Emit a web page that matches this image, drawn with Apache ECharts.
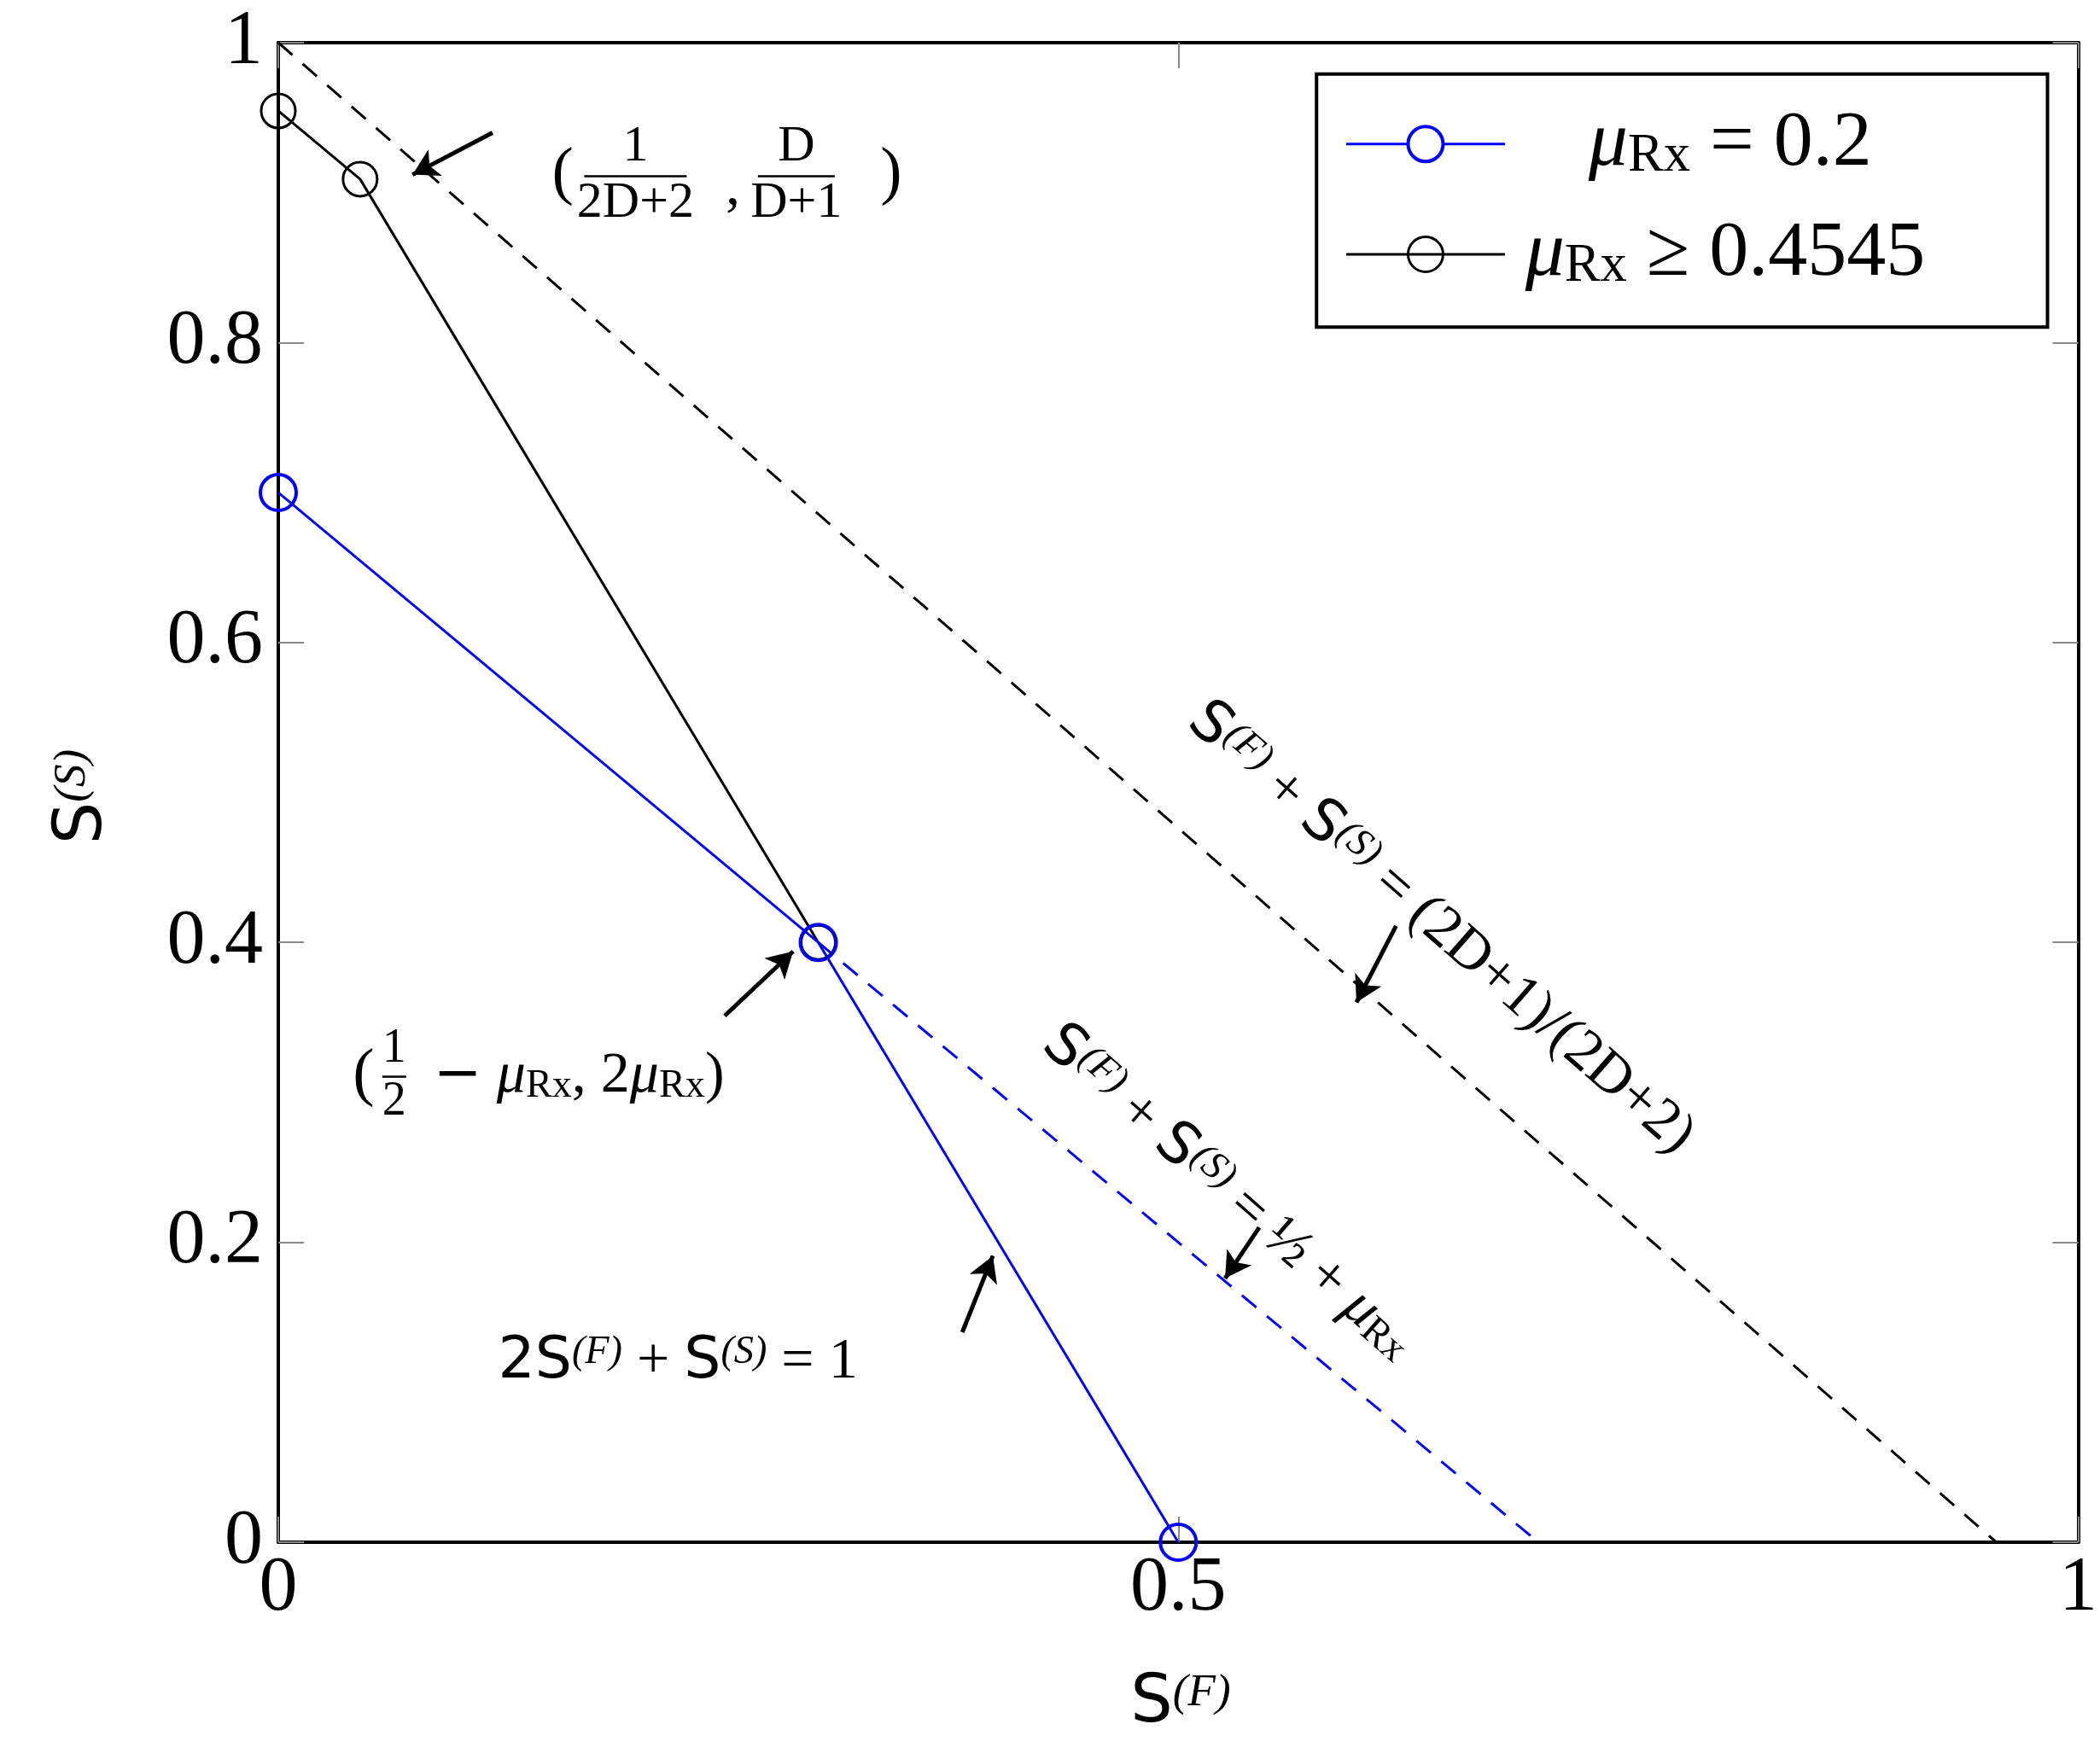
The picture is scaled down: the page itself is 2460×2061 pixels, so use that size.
<!DOCTYPE html>
<html><head><meta charset="utf-8">
<script src="https://cdn.jsdelivr.net/npm/echarts@6/dist/echarts.min.js"></script>
<style>html,body{margin:0;background:#fff}#c{width:2460px;height:2061px}</style>
</head><body><div id="c"></div>
<script>
// data
const bluePts = [[0, 0.7], [0.3, 0.4], [0.5, 0]];
const blueDash = [[0.3, 0.4], [0.7, 0]];
const blackPts = [[0, 0.9545], [0.04545, 0.909], [0.3, 0.4]];
const blackDash = [[0, 1], [0.9545, 0]];
const arrows = [
  [[0.119, 0.940], [0.0746, 0.912]],
  [[0.248, 0.351], [0.286, 0.394]],
  [[0.380, 0.140], [0.397, 0.191]],
  [[0.545, 0.210], [0.526, 0.176]],
  [[0.621, 0.411], [0.599, 0.360]]
];
const xTicks = [0, 0.5, 1];
const yTicks = [0, 0.2, 0.4, 0.6, 0.8, 1];

const S = 2460 / 1560; // reference display -> page px
const FONT = 'Liberation Serif';
const rich = (fs) => ({
  n: {fontSize: fs, fontFamily: FONT, color: '#000'},
  i: {fontSize: fs, fontFamily: FONT, fontStyle: 'italic', color: '#000'},
  sup: {fontSize: fs * 0.68, fontFamily: FONT, fontStyle: 'italic', verticalAlign: 'top', color: '#000'},
  sub: {fontSize: fs * 0.68, fontFamily: FONT, verticalAlign: 'bottom', color: '#000'},
  s: {fontSize: fs, fontFamily: 'DejaVu Sans', color: '#000'}
});

function txt(x, y, str, fs, rot, align) {
  return {
    type: 'text', x: x * S, y: y * S, rotation: rot || 0,
    style: {text: str, rich: rich(fs), align: align || 'left', verticalAlign: 'middle', font: fs + 'px ' + FONT}
  };
}
// small stacked fraction
function frac(x, y, num, den, fs) {
  const w = Math.max(num.length, den.length) * fs * 0.5;
  return [
    {type: 'text', x: x * S + w / 2, y: y * S - 4, style: {text: num, font: fs + 'px ' + FONT, align: 'center', verticalAlign: 'bottom'}},
    {type: 'line', shape: {x1: x * S, y1: y * S, x2: x * S + w, y2: y * S}, style: {stroke: '#000', lineWidth: 2.5}},
    {type: 'text', x: x * S + w / 2, y: y * S + 2, style: {text: den, font: fs + 'px ' + FONT, align: 'center', verticalAlign: 'top'}}
  ];
}

const fsA = 68;
const graphic = [
  // point label 1
  txt(410, 130, '(', 76), ...frac(434, 131, '1', '2D+2', 60),
  txt(539, 140, ',', 68), ...frac(563, 131, 'D', 'D+1', 60), txt(654, 130, ')', 76),
  // point label 2
  txt(262, 800, '(', 76), ...frac(284, 800, '1', '2', 56),
  txt(322, 800, '{s|−} {i|μ}{sub|Rx}{n|, 2}{i|μ}{sub|Rx}{n|)}', fsA),
  // constraint
  txt(370, 1012, '{s|2S}{sup|(F)}{n| + }{s|S}{sup|(S)}{n| = 1}', fsA),
  // rotated labels
  txt(780, 770, '{s|S}{sup|(F)}{n| + }{s|S}{sup|(S)}{n| = ½ + }{i|μ}{sub|Rx}', fsA, -0.72),
  txt(888, 530, '{s|S}{sup|(F)}{n| + }{s|S}{sup|(S)}{n| = (2D+1)/(2D+2)}', fsA, -0.72),
  // axis names
  txt(877, 1266, '{s|S}{sup|(F)}', 78, 0, 'center'),
  txt(62, 592, '{s|S}{sup|(S)}', 78, Math.PI / 2, 'center'),
  // legend
  {type: 'rect', shape: {x: 978 * S, y: 55 * S, width: 543 * S, height: 188 * S}, style: {fill: '#fff', stroke: '#000', lineWidth: 4}},
  {type: 'line', shape: {x1: 1000 * S, y1: 107 * S, x2: 1118 * S, y2: 107 * S}, style: {stroke: '#0000ff', lineWidth: 3}},
  {type: 'circle', shape: {cx: 1059 * S, cy: 107 * S, r: 13 * S}, style: {fill: '#fff', stroke: '#0000ff', lineWidth: 4}},
  {type: 'line', shape: {x1: 1000 * S, y1: 189 * S, x2: 1118 * S, y2: 189 * S}, style: {stroke: '#000', lineWidth: 3}},
  {type: 'circle', shape: {cx: 1059 * S, cy: 189 * S, r: 13 * S}, style: {fill: 'none', stroke: '#000', lineWidth: 3}},
  txt(1180, 107, '{i|μ}{sub|Rx}{n| = 0.2}', 92),
  txt(1133, 189, '{i|μ}{sub|Rx}{n| ≥ 0.4545}', 92)
];

const axisCommon = {
  min: 0, max: 1, splitLine: {show: false},
  axisLine: {show: true, onZero: false, lineStyle: {color: '#000', width: 4}},
  axisTick: {show: true, inside: true, length: 30, lineStyle: {color: '#888', width: 2}}
};
const chart = echarts.init(document.getElementById('c'));
chart.setOption({
  animation: false,
  backgroundColor: '#fff',
  grid: {left: 326, right: 19, top: 50, bottom: 254},
  xAxis: [
    Object.assign({}, axisCommon, {type: 'value', interval: 0.5,
      axisLabel: {fontSize: 90, fontFamily: FONT, color: '#000', margin: 10, formatter: v => xTicks.includes(v) ? String(v) : ''}}),
    Object.assign({}, axisCommon, {type: 'value', position: 'top', interval: 0.5, axisLabel: {show: false}})
  ],
  yAxis: [
    Object.assign({}, axisCommon, {type: 'value', interval: 0.2,
      axisLabel: {fontSize: 90, fontFamily: FONT, color: '#000', margin: 18, formatter: v => String(+v.toFixed(1))}}),
    Object.assign({}, axisCommon, {type: 'value', position: 'right', interval: 0.2, axisLabel: {show: false}})
  ],
  series: [
    {type: 'line', data: blackDash, symbol: 'none', lineStyle: {color: '#000', width: 3, type: [22, 16]}},
    {type: 'line', data: blueDash, symbol: 'none', lineStyle: {color: '#0000ff', width: 3, type: [22, 16]}},
    {type: 'line', data: blackPts, symbol: 'circle', symbolSize: 40,
      itemStyle: {color: 'rgba(0,0,0,0)', borderColor: '#000', borderWidth: 3}, lineStyle: {color: '#000', width: 3}},
    {type: 'line', data: bluePts, symbol: 'circle', symbolSize: 42,
      itemStyle: {color: 'rgba(0,0,0,0)', borderColor: '#0000ff', borderWidth: 4}, lineStyle: {color: '#0000ff', width: 3}},
    {type: 'line', data: [], symbol: 'none',
      markLine: {silent: true, symbol: ['none', 'arrow'], symbolSize: [26, 30], label: {show: false},
        lineStyle: {color: '#000', width: 5, type: 'solid'},
        data: arrows.map(a => [{coord: a[0]}, {coord: a[1]}])}}
  ],
  graphic: graphic
});
</script></body></html>
